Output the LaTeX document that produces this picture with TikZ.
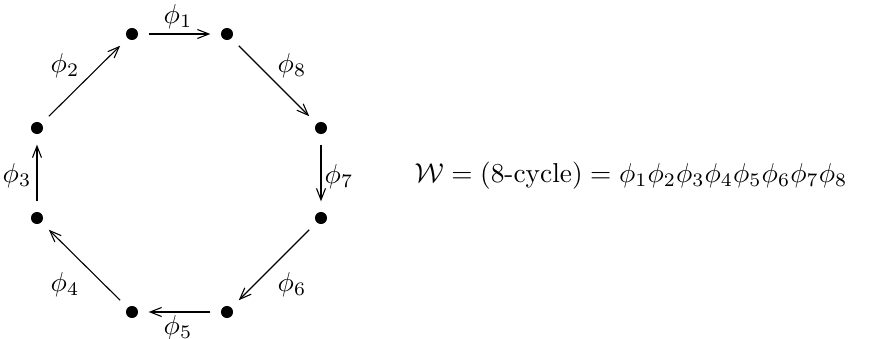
\documentclass[tikz,border=0pt]{standalone}
\usepackage{amsmath}
\usetikzlibrary{arrows.meta}
\begin{document}
\begin{tikzpicture}[x=0.366pt,y=-0.366pt,
  dot/.style={circle,fill=black,inner sep=0pt,minimum size=4.4pt},
  arr/.style={-{Straight Barb[length=4.2pt,width=3.3pt]},line width=0.4pt,shorten >=3.7pt,shorten <=3.7pt},
  lab/.style={inner sep=0pt}]
\useasboundingbox (0,0) rectangle (876,339);
\node[dot] (n1) at (132,34) {};
\node[dot] (n2) at (227,34) {};
\node[dot] (n3) at (321,128) {};
\node[dot] (n4) at (321,218) {};
\node[dot] (n5) at (227,312) {};
\node[dot] (n6) at (132,312) {};
\node[dot] (n7) at (37,218) {};
\node[dot] (n8) at (37,128) {};
\draw[arr] (n1) -- (n2);
\draw[arr] (n2) -- (n3);
\draw[arr] (n3) -- (n4);
\draw[arr] (n4) -- (n5);
\draw[arr] (n5) -- (n6);
\draw[arr] (n6) -- (n7);
\draw[arr] (n7) -- (n8);
\draw[arr] (n8) -- (n1);
\node[lab] (l1) at (178,17) {$\phi_1$};
\node[lab] (l8) at (292,66) {$\phi_8$};
\node[lab] (l7) at (339,177) {$\phi_7$};
\node[lab] (l6) at (292,285) {$\phi_6$};
\node[lab] (l5) at (178,328) {$\phi_5$};
\node[lab] (l4) at (65,285) {$\phi_4$};
\node[lab] (l3) at (17,176) {$\phi_3$};
\node[lab] (l2) at (65,66) {$\phi_2$};
\node[lab,anchor=west] (eq) at (414,176) {$\mathcal{W} = (\text{8-cycle}) = \phi_1\phi_2\phi_3\phi_4\phi_5\phi_6\phi_7\phi_8$};
\end{tikzpicture}
\end{document}
